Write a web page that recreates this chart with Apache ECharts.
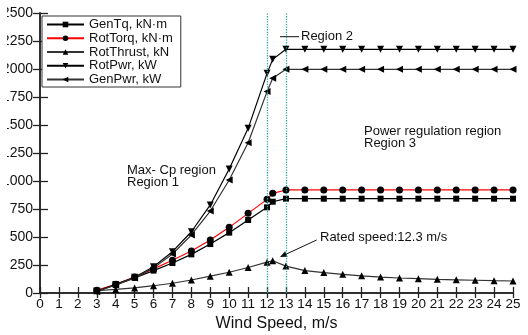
<!DOCTYPE html>
<html>
<head>
<meta charset="utf-8">
<script src="https://cdn.jsdelivr.net/npm/echarts@6/dist/echarts.min.js"></script>
<style>
  html, body { margin: 0; padding: 0; background: #fff; }
  #wrap { position: relative; width: 528px; height: 335px; overflow: hidden; background: #fff; }
  #chart { position: absolute; left: 7px; top: 0; width: 521px; height: 335px; }
</style>
</head>
<body>
<div id="wrap"><div id="chart"></div></div>
<script>
// wind speed, m/s (12.3 = rated speed)
var windSpeed = [3, 4, 5, 6, 7, 8, 9, 10, 11, 12, 12.3, 13, 14, 15, 16, 17, 18, 19, 20, 21, 22, 23, 24, 25];
var genTq     = [22, 72, 135, 200, 268, 345, 437, 539, 652, 765, 815, 842, 842, 842, 842, 842, 842, 842, 842, 842, 842, 842, 842, 842];
var rotTorq   = [25, 78, 143, 215, 292, 375, 473, 586, 711, 836, 890, 920, 920, 920, 920, 920, 920, 920, 920, 920, 920, 920, 920, 920];
var rotThrust = [20, 32, 45, 65, 87, 116, 150, 185, 228, 275, 288, 240, 200, 182, 167, 153, 142, 134, 128, 122, 118, 114, 110, 107];
var rotPwr    = [15, 77, 140, 235, 369, 547, 786, 1107, 1470, 1961, 2086, 2176, 2176, 2176, 2176, 2176, 2176, 2176, 2176, 2176, 2176, 2176, 2176, 2176];
var genPwr    = [12, 72, 135, 222, 348, 518, 732, 1009, 1342, 1798, 1917, 1997, 1997, 1997, 1997, 1997, 1997, 1997, 1997, 1997, 1997, 1997, 1997, 1997];
var regionBounds = [12, 13];

var FONT = "'Liberation Sans', Arial, sans-serif";
var NOTE_FONT = "13px 'Liberation Sans', Arial";

function pairs(ys) {
    return windSpeed.map(function (x, i) { return [x, ys[i]]; });
}

function lineSeries(name, ys, symbol, size, rotate, lineColor) {
    return {
        name: name,
        type: 'line',
        data: pairs(ys),
        symbol: symbol,
        symbolSize: size,
        symbolRotate: rotate,
        showAllSymbol: true,
        itemStyle: { color: '#000' },
        lineStyle: { color: lineColor, width: 1.2 },
        emphasis: { disabled: true },
        z: 3
    };
}

var myChart = echarts.init(document.getElementById('chart'));

var axisLine = { show: true, lineStyle: { color: '#222', width: 1.5 } };

var series = [
    lineSeries('GenTq, kN·m', genTq, 'rect', 6, 0, '#000'),
    lineSeries('RotTorq, kN·m', rotTorq, 'circle', 7, 0, '#ff0000'),
    lineSeries('RotThrust, kN', rotThrust, 'triangle', 7, 0, '#333'),
    lineSeries('RotPwr, kW', rotPwr, 'triangle', 7, 180, '#000'),
    lineSeries('GenPwr, kW', genPwr, 'triangle', 7, 90, '#333')
];
series[0].markLine = {
    silent: true,
    symbol: 'none',
    label: { show: false },
    lineStyle: { color: '#2ca5a5', type: 'dotted', width: 1.3 },
    data: regionBounds.map(function (v) { return { xAxis: v }; })
};

var option = {
    backgroundColor: '#fff',
    animation: false,
    grid: { left: 33, right: 15, top: 13, bottom: 42, containLabel: false, outerBoundsMode: 'none' },
    legend: {
        orient: 'vertical',
        left: 35,
        top: 16,
        padding: [2, 8, 1, 4],
        itemGap: 0.75,
        itemWidth: 37,
        itemHeight: 7,
        backgroundColor: '#fff',
        borderColor: '#333',
        borderWidth: 1,
        borderRadius: 0,
        textStyle: { fontFamily: FONT, fontSize: 13, color: '#111', lineHeight: 12 },
        data: series.map(function (s) { return s.name; })
    },
    xAxis: [{
        type: 'value',
        min: 0, max: 25, interval: 1,
        name: 'Wind Speed, m/s',
        nameLocation: 'middle',
        nameGap: 22,
        nameTextStyle: { fontFamily: FONT, fontSize: 16, color: '#111' },
        axisLine: axisLine,
        axisTick: { show: true, inside: true, length: 6, lineStyle: { color: '#222', width: 1.3 } },
        axisLabel: { fontFamily: FONT, fontSize: 13.5, color: '#111', margin: 4 },
        splitLine: { show: false }
    }, {
        type: 'value',
        position: 'top',
        min: 0, max: 25, interval: 1,
        axisLine: axisLine,
        axisTick: { show: true, inside: true, length: 5, lineStyle: { color: '#222', width: 1.3 } },
        axisLabel: { show: false },
        splitLine: { show: false }
    }],
    yAxis: [{
        type: 'value',
        min: 0, max: 2500, interval: 250,
        axisLine: axisLine,
        axisTick: { show: true, inside: true, length: 8, lineStyle: { color: '#222', width: 1.3 } },
        axisLabel: {
            fontFamily: FONT, fontSize: 14, color: '#111', margin: 7,
            formatter: function (v) { return String(v); }
        },
        splitLine: { show: false }
    }, {
        type: 'value',
        position: 'right',
        min: 0, max: 2500, interval: 250,
        axisLine: axisLine,
        axisTick: { show: true, inside: true, length: 7, lineStyle: { color: '#222', width: 1.3 } },
        axisLabel: { show: false },
        splitLine: { show: false }
    }],
    series: series,
    graphic: [
        { type: 'text', left: 120, top: 164, style: { text: 'Max- Cp region\nRegion 1', font: NOTE_FONT, fill: '#111', lineHeight: 12 } },
        { type: 'text', left: 357, top: 125, style: { text: 'Power regulation region\nRegion 3', font: NOTE_FONT, fill: '#111', lineHeight: 12 } },
        { type: 'text', left: 294, top: 30, style: { text: 'Region 2', font: NOTE_FONT, fill: '#111' } },
        { type: 'line', shape: { x1: 273, y1: 36.7, x2: 292, y2: 36.7 }, style: { stroke: '#111', lineWidth: 1 } },
        { type: 'text', left: 313, top: 231, style: { text: 'Rated speed:12.3 m/s', font: NOTE_FONT, fill: '#111' } },
        { type: 'line', shape: { x1: 309.7, y1: 240, x2: 276, y2: 255.6 }, style: { stroke: '#111', lineWidth: 1 } },
        { type: 'polygon', shape: { points: [[273, 257], [280.6, 256.8], [278.1, 251.3]] }, style: { fill: '#111' } }
    ]
};

myChart.setOption(option);
</script>
</body>
</html>
